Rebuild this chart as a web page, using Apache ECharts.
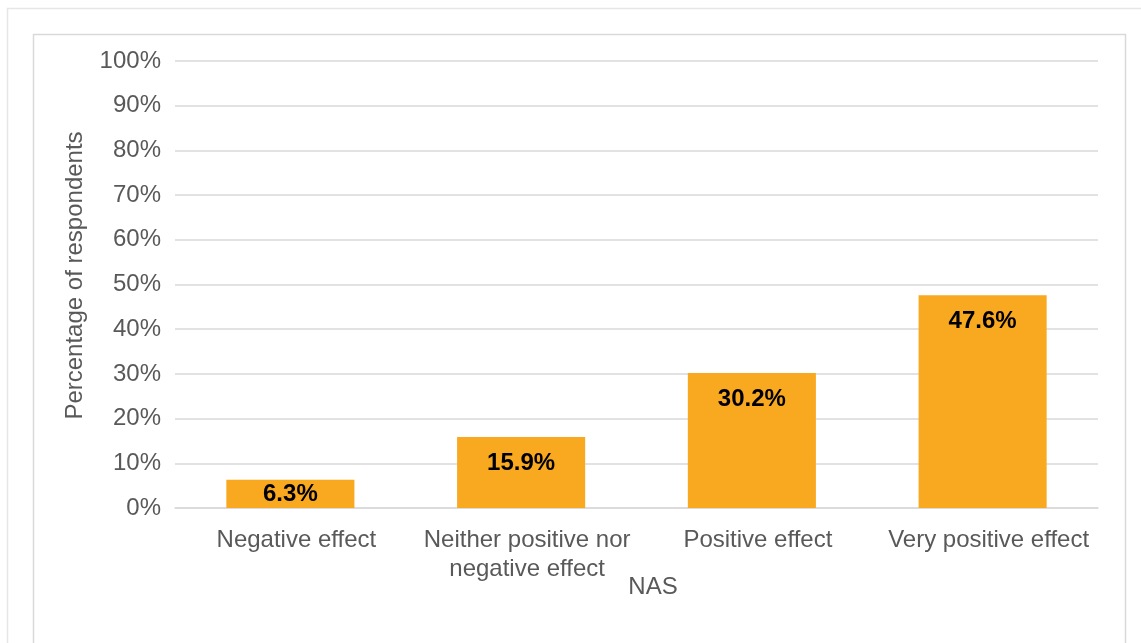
<!DOCTYPE html>
<html><head><meta charset="utf-8">
<script src="https://cdn.jsdelivr.net/npm/echarts@6/dist/echarts.min.js"></script>
<style>html,body{margin:0;padding:0;background:#fff}#c{width:1141px;height:643px}</style>
</head><body><div id="c"></div>
<script>
var categories = ["Negative effect", "Neither positive nor\nnegative effect", "Positive effect", "Very positive effect"];
var values = [6.3, 15.9, 30.2, 47.6];
var yTicks = {min: 0, max: 100, interval: 10};
var xName = "NAS";
var yName = "Percentage of respondents";

var chart = echarts.init(document.getElementById('c'), null, {renderer: 'canvas'});
var font = 'Liberation Sans, Arial, sans-serif';
var seriesData = values.map(function (v) {
  // short bars get their label centred inside the bar
  return v < 10 ? {value: v, label: {position: 'inside'}} : {value: v};
});
chart.setOption({
  animation: false,
  backgroundColor: '#fff',
  textStyle: {fontFamily: font},
  graphic: [
    {type: 'rect', shape: {x: 7.5, y: 8.5, width: 1200, height: 700}, style: {fill: 'none', stroke: '#e6e6e6', lineWidth: 1.5}, silent: true},
    {type: 'rect', shape: {x: 33.5, y: 34.5, width: 1092, height: 700}, style: {fill: 'none', stroke: '#d9d9d9', lineWidth: 1.5}, silent: true}
  ],
  grid: {left: 175, right: 43, top: 61, bottom: 135, containLabel: false},
  xAxis: {
    type: 'category',
    data: categories,
    name: xName,
    nameLocation: 'middle',
    nameGap: 67,
    nameMoveOverlap: false,
    nameTextStyle: {color: '#595959', fontSize: 24, fontFamily: font, padding: [0, 0, 0, 33]},
    axisLine: {lineStyle: {color: '#d9d9d9', width: 1.5}},
    axisTick: {show: false},
    axisLabel: {color: '#595959', fontSize: 24, fontFamily: font, margin: 18, lineHeight: 29, interval: 0, padding: [0, 0, 0, 12]}
  },
  yAxis: {
    type: 'value',
    min: yTicks.min, max: yTicks.max, interval: yTicks.interval,
    name: yName,
    nameLocation: 'middle',
    nameGap: 88,
    nameRotate: 90,
    nameTextStyle: {color: '#595959', fontSize: 24, fontFamily: font, padding: [0, 0, 0, 18]},
    axisLine: {show: false},
    axisTick: {show: false},
    splitLine: {lineStyle: {color: '#d9d9d9', width: 1.5}},
    axisLabel: {color: '#595959', fontSize: 24, fontFamily: font, margin: 14, formatter: '{value}%'}
  },
  series: [{
    type: 'bar',
    data: seriesData,
    barWidth: '55.5%',
    itemStyle: {color: '#F9A920'},
    label: {
      show: true, position: 'insideTop', distance: 14,
      color: '#000', fontWeight: 'bold', fontSize: 24, fontFamily: font,
      formatter: function (p) { return p.value.toFixed(1) + '%'; }
    }
  }]
});
</script></body></html>
